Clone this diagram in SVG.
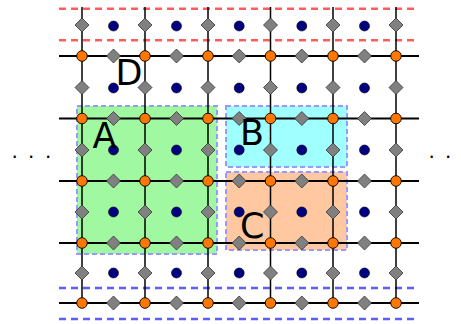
<svg xmlns="http://www.w3.org/2000/svg" width="461" height="324" viewBox="0 0 461 324">
<style>
.rg{stroke:#9999ff;stroke-width:2;stroke-dasharray:5 3}
.hl{stroke:#000;stroke-width:2}
.vl{stroke:#000;stroke-width:1.5}
.rd{stroke:#ff5c5c;stroke-width:2.5;stroke-dasharray:7 5}
.bd{stroke:#5c5cff;stroke-width:2.5;stroke-dasharray:7 5}
.lbl{font-family:"DejaVu Sans",sans-serif;font-size:35px;fill:#000}
.dots{font-family:"DejaVu Sans",sans-serif;font-size:20px;fill:#000;text-anchor:middle}
</style>
<defs>
<circle id="o" r="5.3" fill="#ff7700" stroke="#000" stroke-width="0.9"/>
<circle id="b" r="5" fill="#000080" stroke="#000" stroke-width="0.6"/>
<path id="d" d="M0,-7L7,0L0,7L-7,0Z" fill="#808080" stroke="#333" stroke-width="0.8"/>
</defs>
<g id="regionA"><rect class="rg" x="77" y="106" width="140" height="148" fill="#a0f8a0"/></g>
<g id="regionB"><rect class="rg" x="226" y="106" width="121" height="61" fill="#a0ffff"/></g>
<g id="regionC"><rect class="rg" x="226" y="172" width="121" height="78" fill="#ffc8a0"/></g>
<g id="boundaries">
<line class="rd" x1="59" y1="8.7" x2="419" y2="8.7"/>
<line class="rd" x1="59" y1="40.3" x2="419" y2="40.3"/>
<line class="bd" x1="59" y1="288" x2="419" y2="288"/>
<line class="bd" x1="59" y1="319" x2="419" y2="319"/>
</g>
<g id="connectors">
<line class="hl" x1="59" y1="56" x2="419" y2="56"/>
<line class="hl" x1="59" y1="118.5" x2="419" y2="118.5"/>
<line class="hl" x1="59" y1="181" x2="419" y2="181"/>
<line class="hl" x1="59" y1="243" x2="419" y2="243"/>
<line class="hl" x1="59" y1="303" x2="419" y2="303"/>
<line class="vl" x1="82" y1="7" x2="82" y2="303"/>
<line class="vl" x1="145" y1="7" x2="145" y2="303"/>
<line class="vl" x1="208" y1="7" x2="208" y2="303"/>
<line class="vl" x1="270.5" y1="7" x2="270.5" y2="303"/>
<line class="vl" x1="333" y1="7" x2="333" y2="303"/>
<line class="vl" x1="396" y1="7" x2="396" y2="303"/>
</g>
<g id="edgeNodesV">
<use href="#d" x="82" y="25"/><use href="#d" x="145" y="25"/><use href="#d" x="208" y="25"/><use href="#d" x="270.5" y="25"/><use href="#d" x="333" y="25"/><use href="#d" x="396" y="25"/>
<use href="#d" x="82" y="87.5"/><use href="#d" x="145" y="87.5"/><use href="#d" x="208" y="87.5"/><use href="#d" x="270.5" y="87.5"/><use href="#d" x="333" y="87.5"/><use href="#d" x="396" y="87.5"/>
<use href="#d" x="82" y="150"/><use href="#d" x="145" y="150"/><use href="#d" x="208" y="150"/><use href="#d" x="270.5" y="150"/><use href="#d" x="333" y="150"/><use href="#d" x="396" y="150"/>
<use href="#d" x="82" y="212"/><use href="#d" x="145" y="212"/><use href="#d" x="208" y="212"/><use href="#d" x="270.5" y="212"/><use href="#d" x="333" y="212"/><use href="#d" x="396" y="212"/>
<use href="#d" x="82" y="273"/><use href="#d" x="145" y="273"/><use href="#d" x="208" y="273"/><use href="#d" x="270.5" y="273"/><use href="#d" x="333" y="273"/><use href="#d" x="396" y="273"/>
</g>
<g id="edgeNodesH">
<use href="#d" x="113.5" y="56"/><use href="#d" x="176.5" y="56"/><use href="#d" x="239.2" y="56"/><use href="#d" x="301.8" y="56"/><use href="#d" x="364.5" y="56"/>
<use href="#d" x="113.5" y="118.5"/><use href="#d" x="176.5" y="118.5"/><use href="#d" x="239.2" y="118.5"/><use href="#d" x="301.8" y="118.5"/><use href="#d" x="364.5" y="118.5"/>
<use href="#d" x="113.5" y="181"/><use href="#d" x="176.5" y="181"/><use href="#d" x="239.2" y="181"/><use href="#d" x="301.8" y="181"/><use href="#d" x="364.5" y="181"/>
<use href="#d" x="113.5" y="243"/><use href="#d" x="176.5" y="243"/><use href="#d" x="239.2" y="243"/><use href="#d" x="301.8" y="243"/><use href="#d" x="364.5" y="243"/>
<use href="#d" x="113.5" y="303"/><use href="#d" x="176.5" y="303"/><use href="#d" x="239.2" y="303"/><use href="#d" x="301.8" y="303"/><use href="#d" x="364.5" y="303"/>
</g>
<g id="cellNodes">
<use href="#b" x="113.5" y="26"/><use href="#b" x="176.5" y="26"/><use href="#b" x="239.2" y="26"/><use href="#b" x="301.8" y="26"/><use href="#b" x="364.5" y="26"/>
<use href="#b" x="113.5" y="88"/><use href="#b" x="176.5" y="88"/><use href="#b" x="239.2" y="88"/><use href="#b" x="301.8" y="88"/><use href="#b" x="364.5" y="88"/>
<use href="#b" x="113.5" y="150"/><use href="#b" x="176.5" y="150"/><use href="#b" x="239.2" y="150"/><use href="#b" x="301.8" y="150"/><use href="#b" x="364.5" y="150"/>
<use href="#b" x="113.5" y="212"/><use href="#b" x="176.5" y="212"/><use href="#b" x="239.2" y="212"/><use href="#b" x="301.8" y="212"/><use href="#b" x="364.5" y="212"/>
<use href="#b" x="113.5" y="273"/><use href="#b" x="176.5" y="273"/><use href="#b" x="239.2" y="273"/><use href="#b" x="301.8" y="273"/><use href="#b" x="364.5" y="273"/>
</g>
<g id="vertexNodes">
<use href="#o" x="82" y="56"/><use href="#o" x="145" y="56"/><use href="#o" x="208" y="56"/><use href="#o" x="270.5" y="56"/><use href="#o" x="333" y="56"/><use href="#o" x="396" y="56"/>
<use href="#o" x="82" y="118.5"/><use href="#o" x="145" y="118.5"/><use href="#o" x="208" y="118.5"/><use href="#o" x="270.5" y="118.5"/><use href="#o" x="333" y="118.5"/><use href="#o" x="396" y="118.5"/>
<use href="#o" x="82" y="181"/><use href="#o" x="145" y="181"/><use href="#o" x="208" y="181"/><use href="#o" x="270.5" y="181"/><use href="#o" x="333" y="181"/><use href="#o" x="396" y="181"/>
<use href="#o" x="82" y="243"/><use href="#o" x="145" y="243"/><use href="#o" x="208" y="243"/><use href="#o" x="270.5" y="243"/><use href="#o" x="333" y="243"/><use href="#o" x="396" y="243"/>
<use href="#o" x="82" y="303"/><use href="#o" x="145" y="303"/><use href="#o" x="208" y="303"/><use href="#o" x="270.5" y="303"/><use href="#o" x="333" y="303"/><use href="#o" x="396" y="303"/>
</g>
<g id="labels">
<text class="lbl" x="92.5" y="148">A</text>
<text class="lbl" x="240" y="145">B</text>
<text class="lbl" x="240" y="238">C</text>
<text class="lbl" x="115.5" y="85">D</text>
</g>
<g id="ellipses">
<text class="dots" x="14.7 31.3 48.3" y="157.5">...</text>
<text class="dots" x="431.7 448.3" y="157.5">..</text>
</g>
</svg>
